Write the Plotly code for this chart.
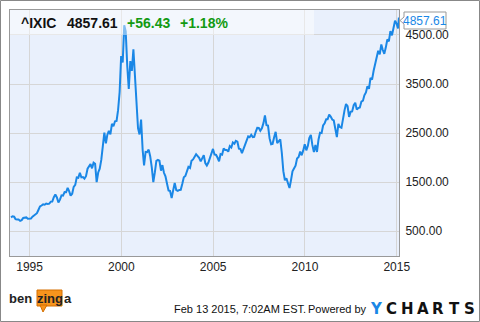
import plotly.graph_objects as go

# ---- data (monthly closes, Nasdaq Composite ^IXIC) ----
values = [
    777,
    800, 793, 743, 733, 735, 706, 722, 765, 764, 777, 750, 752,
    755, 794, 817, 843, 864, 933, 1001, 1020, 1044, 1036, 1059, 1052,
    1059, 1100, 1101, 1191, 1243, 1185, 1081, 1141, 1227, 1222, 1293, 1291,
    1380, 1309, 1222, 1261, 1400, 1442, 1594, 1587, 1686, 1594, 1601, 1570,
    1619, 1771, 1835, 1868, 1779, 1895, 1873, 1499, 1694, 1771, 1950, 2193,
    2506, 2288, 2461, 2543, 2471, 2686, 2638, 2739, 2746, 2966, 3336, 4069,
    3940, 4697, 4573, 3861, 3401, 3966, 3767, 4206, 3673, 3370, 2598, 2471,
    2773, 2152, 1840, 2116, 2110, 2161, 2027, 1805, 1499, 1690, 1931, 1950,
    1934, 1731, 1845, 1688, 1616, 1463, 1328, 1315, 1172, 1330, 1479, 1336,
    1321, 1338, 1341, 1464, 1596, 1623, 1735, 1810, 1787, 1932, 1960, 2003,
    2066, 2030, 1994, 1920, 1987, 2048, 1887, 1838, 1897, 1975, 2097, 2175,
    2062, 2052, 1999, 1922, 2068, 2057, 2185, 2152, 2152, 2120, 2233, 2205,
    2306, 2281, 2340, 2323, 2179, 2172, 2091, 2184, 2258, 2367, 2432, 2415,
    2464, 2416, 2422, 2525, 2605, 2603, 2546, 2596, 2701, 2859, 2661, 2652,
    2390, 2271, 2279, 2413, 2523, 2293, 2326, 2368, 2092, 1721, 1536, 1577,
    1476, 1377, 1529, 1717, 1774, 1835, 1979, 2009, 2122, 2045, 2145, 2269,
    2147, 2238, 2398, 2461, 2257, 2109, 2255, 2114, 2369, 2507, 2498, 2653,
    2700, 2782, 2781, 2874, 2835, 2774, 2756, 2579, 2415, 2684, 2620, 2605,
    2814, 2967, 3092, 3046, 2827, 2935, 2940, 3067, 3116, 2977, 3010, 3020,
    3142, 3160, 3268, 3329, 3456, 3403, 3626, 3590, 3771, 3920, 4060, 4177,
    4104, 4308, 4199, 4115, 4243, 4408, 4370, 4580, 4493, 4631, 4792, 4736,
    4635,
]
last_date = "2015-02-13"
last_value = 4857.61

y_tick_vals = [500, 1500, 2500, 3500, 4500]
y_tick_text = ["500.00", "1500.00", "2500.00", "3500.00", "4500.00"]
x_tick_years = [1995, 2000, 2005, 2010, 2015]

ticker = "^IXIC"
price_text = "4857.61"
change_text = "+56.43"
pct_text = "+1.18%"

# dates: Dec 1993 onward, month ends (approx day 28)
dates = []
y, m = 1993, 12
for _ in values:
    dates.append(f"{y}-{m:02d}-28")
    m += 1
    if m > 12:
        m = 1
        y += 1
dates.append(last_date)
vals = values + [last_value]

W, H = 480, 322
L, R, T, B = 10, 399, 10, 256


def px(x):
    return (x - L) / (R - L)


def py(yv):
    return (B - yv) / (B - T)


FONT = "Arial, 'Liberation Sans', sans-serif"
BLUE = "#1a87e6"
GREEN = "#129a12"

fig = go.Figure()
fig.add_trace(go.Scatter(x=dates, y=vals, mode="lines",
                         line=dict(color=BLUE, width=2), hoverinfo="skip"))

fig.update_layout(
    width=W, height=H,
    margin=dict(l=L, r=W - R, t=T, b=H - B),
    paper_bgcolor="white",
    plot_bgcolor="#e9f0fc",
    showlegend=False,
    font=dict(family=FONT, size=12, color="#222"),
    xaxis=dict(
        range=["1993-12-08", "2015-02-15"],
        tickvals=[f"{yr}-01-01" for yr in x_tick_years],
        ticktext=[str(yr) for yr in x_tick_years],
        showgrid=True, gridcolor="#d6d6d6", gridwidth=1,
        showline=True, linecolor="#999", linewidth=1, mirror=True,
        ticks="", zeroline=False,
        tickfont=dict(size=12, color="#222"),
    ),
    yaxis=dict(
        range=[-10, 5010], side="right",
        tickvals=y_tick_vals, ticktext=y_tick_text,
        showgrid=True, gridcolor="#d6d6d6", gridwidth=1,
        showline=True, linecolor="#999", linewidth=1, mirror=True,
        ticks="", zeroline=False, ticklabelstandoff=3,
        tickfont=dict(size=12, color="#222"),
    ),
)

shapes = []
# header overlay
shapes.append(dict(type="rect", xref="paper", yref="paper",
                   x0=px(L), x1=px(314), y0=py(35), y1=py(T),
                   fillcolor="white", opacity=0.45, line=dict(width=0),
                   layer="above"))
# outer border
shapes.append(dict(type="rect", xref="paper", yref="paper",
                   x0=px(0.5), x1=px(479.5), y0=py(321.5), y1=py(0.5),
                   line=dict(color="#888", width=1), fillcolor="rgba(0,0,0,0)",
                   layer="above"))
# last value tag
shapes.append(dict(type="path", xref="paper", yref="paper",
                   path=(f"M {px(404)},{py(12)} L {px(446)},{py(12)} L {px(446)},{py(29)} "
                         f"L {px(404)},{py(29)} L {px(404)},{py(24)} L {px(400)},{py(20.5)} "
                         f"L {px(404)},{py(17)} Z"),
                   fillcolor="white", line=dict(color="#999", width=1), layer="above"))
# benzinga bubble
shapes.append(dict(type="rect", xref="paper", yref="paper",
                   x0=px(37), x1=px(62), y0=py(306), y1=py(290),
                   fillcolor="#f7941d", line=dict(color="#d46f00", width=1),
                   layer="above"))
shapes.append(dict(type="path", xref="paper", yref="paper",
                   path=f"M {px(40)},{py(305)} L {px(43)},{py(312)} L {px(47)},{py(305)} Z",
                   fillcolor="#f7941d", line=dict(color="#d46f00", width=1),
                   layer="above"))
fig.update_layout(shapes=shapes)

ann = []


def text(x, yv, s, size=12, color="#222", bold=False, xanchor="left", family=FONT):
    ann.append(dict(xref="paper", yref="paper", x=px(x), y=py(yv),
                    text=(f"<b>{s}</b>" if bold else s), showarrow=False,
                    xanchor=xanchor, yanchor="middle",
                    font=dict(size=size, color=color, family=family),
                    borderpad=0))


text(20, 23, ticker, 14, "#111", True)
text(66, 23, price_text, 14, "#111", True)
text(126, 23, change_text, 14, GREEN, True)
text(179, 23, pct_text, 14, GREEN, True)
text(425, 20.5, price_text, 12, BLUE, False, "center")

text(173, 309, "Feb 13 2015, 7:02AM EST.", 11, "#111")
text(307, 309, "Powered by", 11, "#111")
logo_letters = "YCHARTS"
for i, ch in enumerate(logo_letters):
    text(376 + i * 15.6, 309, ch, 15, BLUE if i == 0 else "#111", True, "center",
         family="'DejaVu Sans', sans-serif")

text(8, 298, "ben", 13, "#222", True)
text(49.5, 298, "zing", 13, "#222", True, "center")
text(63, 298, "a", 13, "#222", True)

fig.update_layout(annotations=ann)

fig.write_html("out.html")
